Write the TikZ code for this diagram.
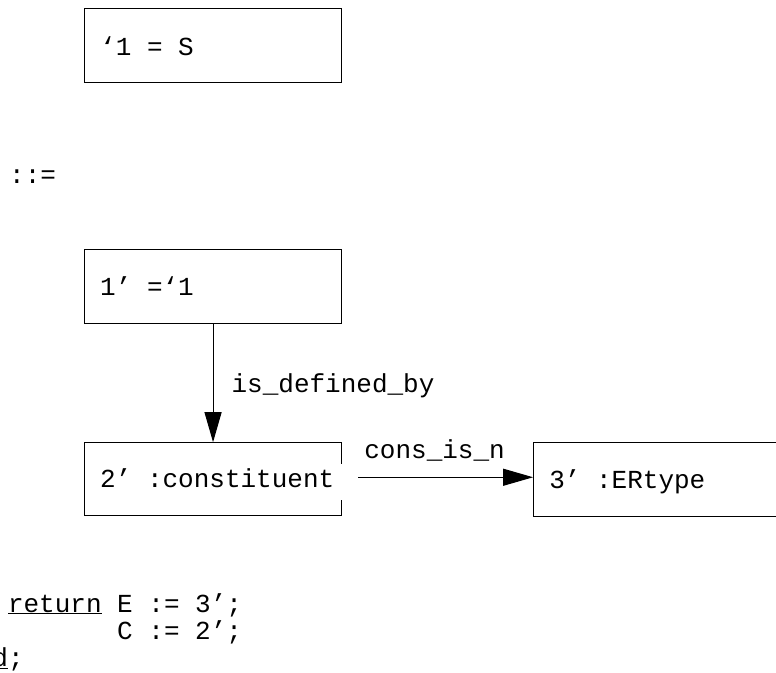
\documentclass[tikz,border=0pt]{standalone}
\usepackage{fontspec}
\newfontfamily\codefont{Liberation Mono}
\usetikzlibrary{positioning,arrows.meta}

\begin{document}
\begin{tikzpicture}[
    x=1pt, y=-1pt,
    font=\codefont\fontsize{26}{23.5}\selectfont,
    box/.style={draw, line width=1.1pt, minimum width=257pt, minimum height=74pt, inner sep=0pt},
    txt/.style={fill=white, inner xsep=9pt, inner ysep=6pt, text height=17pt, text depth=7pt, anchor=base west},
    code/.style={inner sep=0pt, anchor=base west},
    link/.style={-{Triangle[length=30pt,width=17pt]}, line width=1.1pt}
]
\useasboundingbox (0,0) rectangle (776,672);
\clip (0,0) rectangle (776,672);

% graph boxes
\node[box, anchor=north west] (top) at (84,8) {};
\node[box, below=166pt of top] (one) {};
\node[box, below=118pt of one, minimum height=73pt] (two) {};
\node[box, right=191pt of two] (three) {};

\node[txt] (toptxt) at ([shift={(7pt,-10pt)}]top.west) {‘1 = S};
\node[txt] (onetxt) at ([shift={(7pt,-9pt)}]one.west) {1’ =‘1};
\node[txt] (twotxt) at ([shift={(7pt,-8pt)}]two.west) {2’ :constituent};
\node[txt] (threetxt) at ([shift={(7pt,-9pt)}]three.west) {3’ :ERtype};

\node[code] (defsym) at (9,183) {::=};

\draw[link] (one) -- (two)
    node[code, midway, xshift=18pt, yshift=-9pt] {is\_defined\_by};
\draw[link, shorten <=16pt] ([yshift=2pt]two.east) -- ([yshift=2pt]three.west)
    node[inner sep=0pt, anchor=base, midway, xshift=-3pt, yshift=19pt] {cons\_is\_n};

% trailing code
\node[code] (ret) at (-39,612) {\phantom{~~~}\underline{return} E := 3’;};
\node[code] (cset) at (-39,639) {\phantom{~~~~~~~~~~}C := 2’;};
\node[code] (fin) at (-39,666) {\underline{end};};
\end{tikzpicture}
\end{document}
